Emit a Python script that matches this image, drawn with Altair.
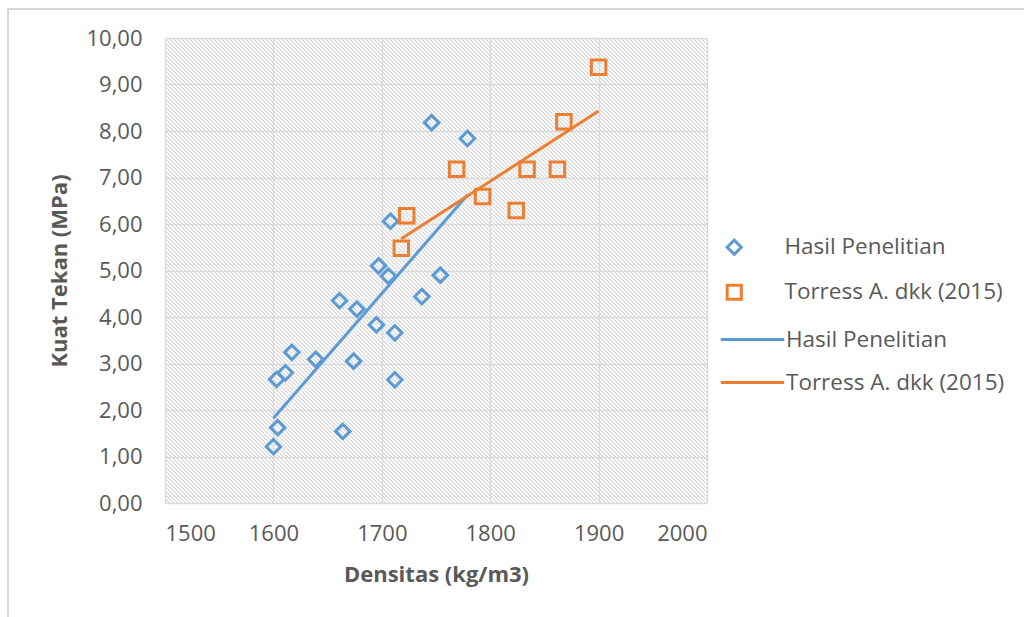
import altair as alt
import pandas as pd

# ---- data ----
hasil_x = [1600, 1604, 1603, 1611, 1617, 1639, 1664, 1661, 1674, 1677,
           1695, 1712, 1712, 1737, 1754, 1697, 1706, 1708, 1746, 1779]
hasil_y = [1.21, 1.62, 2.66, 2.80, 3.24, 3.09, 1.54, 4.35, 3.05, 4.17,
           3.83, 3.66, 2.65, 4.44, 4.90, 5.10, 4.88, 6.06, 8.18, 7.84]
torress_x = [1718, 1723, 1769, 1793, 1824, 1834, 1862, 1868, 1900]
torress_y = [5.48, 6.18, 7.18, 6.59, 6.29, 7.18, 7.18, 8.20, 9.37]
series_names = ["Hasil Penelitian", "Torress A. dkk (2015)"]
series_colors = ["#5B9BD5", "#ED7D31"]
x_ticks = [1500, 1600, 1700, 1800, 1900, 2000]
y_ticks = [0, 1, 2, 3, 4, 5, 6, 7, 8, 9, 10]

df = pd.DataFrame({
    "x": hasil_x + torress_x,
    "y": hasil_y + torress_y,
    "series": [series_names[0]] * len(hasil_x) + [series_names[1]] * len(torress_x),
})

W, H = 542, 465
FONT = "Open Sans"
TXT = "#595959"

# hatch background as a striped linear gradient (style only)
span = W + H          # horizontal pixel span of the gradient
period = 4.0          # horizontal period of the stripes, px
stripe = 1.3          # stripe width, px
HATCH = "#e0e0e0"
stops = []
k = 0
while k * period < span:
    a = k * period / span
    b = min((k * period + stripe) / span, 1.0)
    c = min((k + 1) * period / span, 1.0)
    stops += [(a, HATCH), (b, HATCH), (b, "#ffffff"), (c, "#ffffff")]
    k += 1
stop_str = ",".join("{offset:%.6f,color:'%s'}" % (o, col) for o, col in stops)
hatch_expr = "{gradient:'linear',x1:0,y1:1,x2:1.07,y2:0.082,stops:[" + stop_str + "]}"

x_enc = alt.X("x:Q", scale=alt.Scale(domain=[1500, 2000], nice=False),
              axis=alt.Axis(values=x_ticks, format="d", title="Densitas (kg/m3)",
                            labelPadding=20, titlePadding=20))
y_enc = alt.Y("y:Q", scale=alt.Scale(domain=[0, 10], nice=False),
              axis=alt.Axis(values=y_ticks, title="Kuat Tekan (MPa)",
                            labelExpr="replace(format(datum.value, '.2f'), '.', ',')",
                            labelPadding=23, titlePadding=14))

pt_legend = dict(title=None, orient="none", legendX=558, legendY=198,
                 symbolSize=200, symbolStrokeWidth=3, labelOffset=39, rowPadding=18)

points = alt.Chart(df).mark_point(filled=False, strokeWidth=3, size=210, opacity=1).encode(
    x=x_enc, y=y_enc,
    color=alt.Color("series:N", scale=alt.Scale(domain=series_names, range=series_colors),
                    legend=alt.Legend(**pt_legend)),
    shape=alt.Shape("series:N", scale=alt.Scale(domain=series_names, range=["diamond", "square"]),
                    legend=alt.Legend(**pt_legend)),
)

lines = alt.Chart(df).transform_regression("x", "y", groupby=["series"]).mark_line(strokeWidth=3).encode(
    x="x:Q", y="y:Q",
    color=alt.Color("series:N", scale=alt.Scale(domain=series_names, range=series_colors),
                    legend=alt.Legend(title=None, orient="none", legendX=570, legendY=284,
                                      symbolType="M-2,0L2,0", symbolSize=1007,
                                      symbolStrokeWidth=3, labelOffset=16, rowPadding=14)),
)

frame = alt.Chart(alt.Data(values=[{"k": 1}])).mark_rect(
    fillOpacity=0, stroke="#d9d9d9", strokeWidth=2).encode(
    x=alt.value(-157), x2=alt.value(1000), y=alt.value(-29), y2=alt.value(700))

chart = alt.layer(frame, lines, points).resolve_scale(color="independent", shape="independent").properties(
    width=W, height=H,
    autosize=alt.AutoSizeParams(type="none"),
    padding={"left": 165, "top": 38, "right": 317, "bottom": 114},
    background="white",
).configure_view(
    stroke=None, fill=alt.ExprRef(hatch_expr)
).configure_axis(
    grid=True, gridColor="#d9d9d9", gridWidth=1.3, domain=False, ticks=False,
    labelFont=FONT, labelFontSize=22, labelColor=TXT,
    titleFont=FONT, titleFontSize=22, titleFontWeight="bold", titleColor=TXT,
).configure_legend(
    labelFont=FONT, labelFontSize=22.5, labelColor=TXT, labelLimit=400,
)

chart.save("out.html", embed_options={"renderer": "svg", "actions": False})
